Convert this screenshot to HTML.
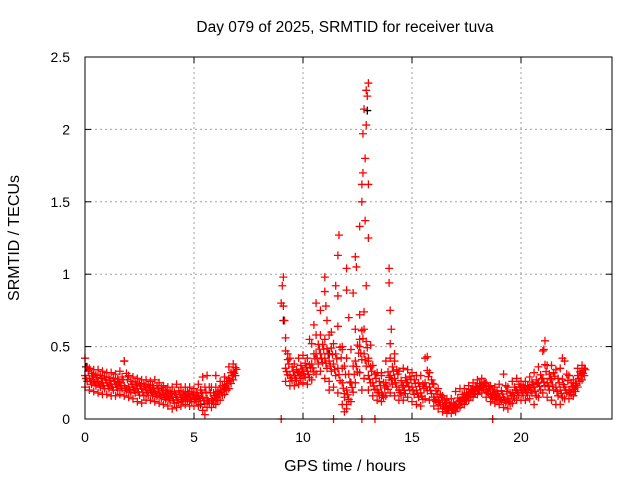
<!DOCTYPE html>
<html><head><meta charset="utf-8"><style>
body{margin:0;background:#fff;}
svg{display:block;font-family:"Liberation Sans",sans-serif;}
</style></head><body>
<svg id="chart" width="640" height="480" viewBox="0 0 640 480">
<rect width="640" height="480" fill="#fff"/>
<text x="345" y="32" font-size="15.5" text-anchor="middle">Day 079 of 2025, SRMTID for receiver tuva</text>
<text x="345" y="471" font-size="16" text-anchor="middle">GPS time / hours</text>
<text transform="translate(19,238) rotate(-90)" font-size="16" text-anchor="middle">SRMTID / TECUs</text>
<g id="grid"></g><g id="ticks"></g><g id="marks"></g>
<rect x="85" y="57" width="527" height="362" fill="none" stroke="#000" stroke-width="1"/>
</svg>
<script>
const xTicks=[0,5,10,15,20];
const yTicks=[0,0.5,1,1.5,2,2.5];
const yTickLabels=["0","0.5","1","1.5","2","2.5"];
const bandT=[0,0.2,0.4,0.6,0.8,1,1.2,1.4,1.6,1.8,2,2.2,2.4,2.6,2.8,3,3.2,3.4,3.6,3.8,4,4.2,4.4,4.6,4.8,5,5.2,5.4,5.6,5.8,6,6.2,6.4,6.6,6.8,
9.2,9.4,9.6,9.8,10,10.2,10.4,10.6,10.8,11,11.2,11.4,11.6,11.8,12,12.2,12.4,12.6,12.8,13,13.2,13.4,13.6,13.8,14,14.2,14.4,14.6,14.8,15,15.2,15.4,15.6,15.8,16,16.2,16.4,16.6,16.8,17,17.2,17.4,17.6,17.8,18,18.2,18.4,18.6,18.8,19,19.2,19.4,19.6,19.8,20,20.2,20.4,20.6,20.8,21,21.2,21.4,21.6,21.8,22,22.2,22.4,22.6,22.8];
const bandMid=[0.30,0.28,0.27,0.26,0.25,0.25,0.24,0.24,0.25,0.23,0.22,0.22,0.21,0.21,0.20,0.20,0.19,0.18,0.17,0.16,0.15,0.15,0.15,0.16,0.15,0.15,0.16,0.15,0.14,0.14,0.16,0.20,0.23,0.28,0.33,
0.35,0.30,0.30,0.32,0.33,0.33,0.38,0.45,0.45,0.42,0.40,0.38,0.35,0.25,0.20,0.25,0.40,0.50,0.45,0.30,0.25,0.20,0.18,0.25,0.30,0.28,0.20,0.22,0.25,0.22,0.20,0.18,0.25,0.22,0.15,0.13,0.10,0.08,0.08,0.10,0.13,0.15,0.18,0.20,0.22,0.23,0.20,0.17,0.16,0.15,0.15,0.14,0.18,0.20,0.20,0.20,0.22,0.22,0.25,0.28,0.25,0.27,0.22,0.20,0.22,0.20,0.22,0.30,0.33];
const bandHi=[0.42,0.35,0.34,0.34,0.33,0.32,0.32,0.31,0.33,0.40,0.30,0.29,0.28,0.27,0.27,0.26,0.27,0.25,0.23,0.22,0.22,0.24,0.22,0.22,0.22,0.21,0.24,0.29,0.30,0.22,0.22,0.26,0.29,0.36,0.38,
0.47,0.42,0.38,0.42,0.44,0.42,0.52,0.58,0.58,0.55,0.58,0.52,0.64,0.48,0.42,0.48,0.62,0.72,0.62,0.42,0.37,0.32,0.32,0.40,0.42,0.40,0.33,0.35,0.34,0.32,0.30,0.30,0.42,0.32,0.24,0.21,0.16,0.14,0.14,0.19,0.21,0.21,0.23,0.25,0.27,0.28,0.25,0.23,0.22,0.24,0.31,0.22,0.26,0.28,0.26,0.26,0.29,0.32,0.36,0.47,0.37,0.37,0.34,0.35,0.40,0.30,0.27,0.35,0.37];
const bandLo=[0.22,0.20,0.19,0.18,0.17,0.17,0.16,0.16,0.17,0.16,0.15,0.14,0.12,0.11,0.13,0.13,0.12,0.11,0.10,0.09,0.07,0.08,0.09,0.10,0.09,0.09,0.09,0.06,0.08,0.08,0.10,0.13,0.17,0.21,0.27,
0.26,0.23,0.23,0.24,0.25,0.24,0.27,0.31,0.33,0.28,0.26,0.22,0.18,0.10,0.07,0.12,0.25,0.32,0.28,0.20,0.16,0.13,0.12,0.16,0.18,0.16,0.13,0.13,0.15,0.12,0.10,0.09,0.14,0.13,0.09,0.07,0.05,0.04,0.04,0.05,0.08,0.10,0.13,0.15,0.17,0.18,0.15,0.12,0.11,0.10,0.08,0.07,0.11,0.13,0.13,0.13,0.14,0.10,0.15,0.18,0.15,0.13,0.10,0.10,0.14,0.14,0.16,0.22,0.27];
const spikeT=[9.0,9.05,9.1,9.1,9.15,9.2,9.3,10.3,10.5,10.6,10.8,11.0,11.0,11.05,11.1,11.3,11.5,11.6,11.6,11.65,11.8,11.9,12.0,12.0,12.1,12.3,12.4,12.45,12.6,12.6,12.7,12.75,12.7,12.75,12.8,12.85,12.9,12.9,12.95,13.0,13.0,13.0,12.85,12.9,12.8,13.1,13.0,12.7,13.95,13.95,14.0,14.05,14.0,14.2,15.7,21.1,21.05,21.9,1.8,6.0,5.5,11.8,11.9,12.0,11.2,13.6,9.0,11.4,12.7,13.3,18.7];
const spikeV=[0.80,0.92,0.98,0.78,0.68,0.56,0.45,0.55,0.65,0.80,0.75,0.98,0.88,0.78,0.68,0.60,0.92,0.85,1.13,1.27,0.50,0.05,0.89,1.04,0.70,0.87,1.12,1.05,0.55,1.33,1.62,1.70,1.50,1.97,2.14,1.80,2.03,2.27,2.23,2.32,1.62,1.25,1.37,0.92,0.74,0.51,0.40,0.20,1.04,0.94,0.75,0.62,0.52,0.45,0.43,0.54,0.48,0.42,0.40,0.30,0.03,0.35,0.15,0.10,0.20,0.30,0,0,0,0,0];
const blackT=[12.95,9.1,11.2,0.05,5.3];
const blackV=[2.13,0.68,0.45,0.36,0.10];

const X0=85,XS=21.8,Y0=419,YS=144.8;
const xs=t=>X0+t*XS, ys=v=>Y0-v*YS;
const NS="http://www.w3.org/2000/svg";
const grid=document.getElementById('grid'),ticks=document.getElementById('ticks'),marks=document.getElementById('marks');
function mk(tag,attrs,parent){const e=document.createElementNS(NS,tag);for(const k in attrs)e.setAttribute(k,attrs[k]);parent.appendChild(e);return e;}
xTicks.forEach(t=>{
  const x=xs(t);
  if(t>0){const g=mk('line',{x1:x,x2:x,y1:57,y2:419,stroke:'#a0a0a0','stroke-dasharray':'2,3'},grid);
  
  }
  mk('line',{x1:x,x2:x,y1:419,y2:413,stroke:'#000'},ticks);
  mk('line',{x1:x,x2:x,y1:57,y2:63,stroke:'#000'},ticks);
  const l=mk('text',{x:x,y:442,'font-size':14,'text-anchor':'middle'},ticks);
  l.textContent=t;
  
  
});
yTicks.forEach((v,i)=>{
  const y=ys(v);
  if(v>0&&v<2.5){const g=mk('line',{x1:85,x2:612,y1:y,y2:y,stroke:'#a0a0a0','stroke-dasharray':'2,3'},grid);
  
  }
  mk('line',{x1:85,x2:91,y1:y,y2:y,stroke:'#000'},ticks);
  mk('line',{x1:606,x2:612,y1:y,y2:y,stroke:'#000'},ticks);
  const l=mk('text',{x:70,y:y+5,'font-size':14,'text-anchor':'end'},ticks);
  l.textContent=yTickLabels[i];
  
  
});
function plus(t,v,col){
  const x=xs(t),y=ys(v);
  const p=mk('path',{d:`M${x-4},${y}h8M${x},${y-4}v8`,stroke:col,'stroke-width':1.3,fill:'none'},marks);
  
  
}
blackT.forEach((t,i)=>plus(t,blackV[i],'#000'));
bandT.forEach((t,i)=>{
  plus(t,bandMid[i],'#f00');plus(t,bandHi[i],'#f00');plus(t,bandLo[i],'#f00');
  plus(t+0.1,(bandMid[i]+bandHi[i])/2,'#f00');plus(t+0.1,(bandMid[i]+bandLo[i])/2,'#f00');
  plus(t+0.05,(bandMid[i]*3+bandLo[i])/4,'#f00');plus(t+0.15,(bandMid[i]*3+bandHi[i])/4,'#f00');
});
spikeT.forEach((t,i)=>plus(t,spikeV[i],'#f00'));
</script>
</body></html>
